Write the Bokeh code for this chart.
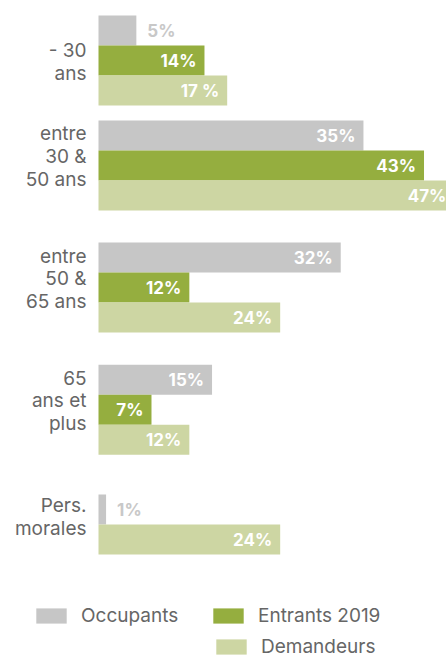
from bokeh.plotting import figure
from bokeh.models import ColumnDataSource, Range1d, Legend, LegendItem
from bokeh.core.properties import value
from bokeh.embed import file_html
from bokeh.resources import INLINE

# ---- data ----
categories = ["- 30\nans", "entre\n30 &\n50 ans", "entre\n50 &\n65 ans", "65\nans et\nplus", "Pers.\nmorales"]
series = ["Occupants", "Entrants 2019", "Demandeurs"]
occupants = [5, 35, 32, 15, 1]
entrants = [14, 43, 12, 7, None]
demandeurs = [17, 47, 24, 12, 24]
occupants_labels = ["5%", "35%", "32%", "15%", "1%"]
entrants_labels = ["14%", "43%", "12%", "7%", ""]
demandeurs_labels = ["17 %", "47%", "24%", "12%", "24%"]

# ---- layout / style ----
colors = ["#c6c6c6", "#95ae3f", "#cdd6a3"]
group_gap = [0.5, 1.07, 1.07, 1.33]        # gap after each group, in bar heights
label_shift = [0.05, -0.3, -0.3, -0.3, -0.25]
FONT = "Inter"
TEXT = "#666666"

values_by_series = [occupants, entrants, demandeurs]
labels_by_series = [occupants_labels, entrants_labels, demandeurs_labels]

bars = {s: dict(y=[], v=[]) for s in series}
inside = dict(x=[], y=[], t=[])
outside = dict(x=[], y=[], t=[])
cat = dict(x=[], y=[], t=[])

top = 0.0
for g, name in enumerate(categories):
    k = 0
    for si, s in enumerate(series):
        v = values_by_series[si][g]
        if v is None:
            continue
        yc = top + k + 0.5
        bars[s]["y"].append(yc)
        bars[s]["v"].append(v)
        lab = labels_by_series[si][g]
        tgt = inside if v >= 7 else outside
        tgt["x"].append(v)
        tgt["y"].append(yc)
        tgt["t"].append(lab)
        k += 1
    cat["x"].append(0)
    cat["y"].append(top + k / 2 + label_shift[g])
    cat["t"].append(name)
    top += k
    if g < len(group_gap):
        top += group_gap[g]

W, H = 446, 659
PX_PER_PCT = 7.57
X0 = 98
PX_PER_BAR = 30
Y0 = 15

p = figure(width=W, height=H, output_backend="svg", toolbar_location=None,
           x_axis_type=None, y_axis_type=None, min_border=0,
           x_range=Range1d(-X0 / PX_PER_PCT, (W - X0) / PX_PER_PCT),
           y_range=Range1d((H - Y0) / PX_PER_BAR, -Y0 / PX_PER_BAR))
p.outline_line_color = None
p.xgrid.visible = False
p.ygrid.visible = False
p.background_fill_color = "white"
p.border_fill_color = "white"

renderers = []
for s, c in zip(series, colors):
    src = ColumnDataSource(bars[s])
    r = p.hbar(y="y", right="v", left=0, height=1.0, source=src,
               fill_color=c, line_color=None)
    renderers.append(r)

p.text(x="x", y="y", text="t", source=ColumnDataSource(inside),
       text_align="right", text_baseline="middle", x_offset=-8,
       text_color="white", text_font=value(FONT), text_font_size="17px",
       text_font_style="bold")
p.text(x="x", y="y", text="t", source=ColumnDataSource(outside),
       text_align="left", text_baseline="middle", x_offset=11,
       text_color="#c8c8c8", text_font=value(FONT), text_font_size="17px",
       text_font_style="bold")
p.text(x="x", y="y", text="t", source=ColumnDataSource(cat),
       text_align="right", text_baseline="middle", x_offset=-12,
       text_color=TEXT, text_font=value(FONT), text_font_size="19px",
       text_line_height=0.98)

common = dict(padding=0, margin=0, spacing=0, glyph_width=38, glyph_height=19,
              label_height=19, label_standoff=11, label_width=128,
              label_text_font=FONT, label_text_font_size="19px",
              label_text_color=TEXT, border_line_alpha=0,
              background_fill_alpha=0, orientation="horizontal")
leg1 = Legend(items=[LegendItem(label=series[0], renderers=[renderers[0]]),
                     LegendItem(label=series[1], renderers=[renderers[1]])],
              location=(32, 32), **common)
leg2 = Legend(items=[LegendItem(label=series[2], renderers=[renderers[2]])],
              location=(212, 1), **common)
p.add_layout(leg1)
p.add_layout(leg2)

open("out.html", "w").write(file_html(p, INLINE))
